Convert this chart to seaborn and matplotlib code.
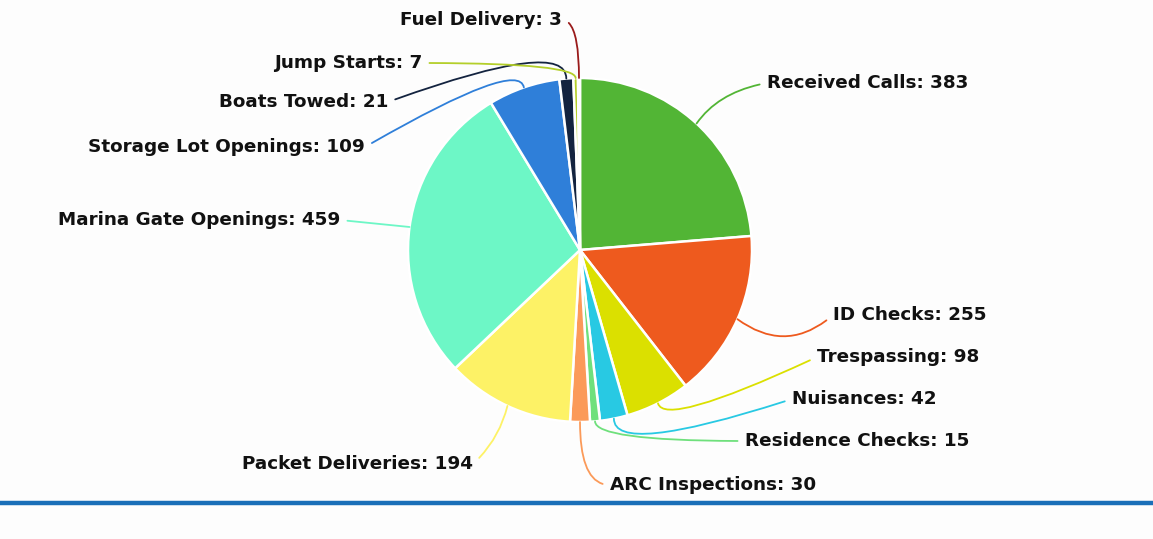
import numpy as np
import seaborn as sns
import matplotlib
matplotlib.use('Agg')
import matplotlib.pyplot as plt

# Données
categories = ['Received Calls', 'ID Checks', 'Trespassing', 'Nuisances', 'Residence Checks',
              'ARC Inspections', 'Packet Deliveries', 'Marina Gate Openings',
              'Storage Lot Openings', 'Boats Towed', 'Jump Starts', 'Fuel Delivery']
values = [383, 255, 98, 42, 15, 30, 194, 459, 109, 21, 7, 3]
colors = ['#52b535', '#ee5a1e', '#dbe000', '#28c9e3', '#6fe07c', '#fb9a59',
          '#fdf266', '#6df7c6', '#2f7fd9', '#13233f', '#b4cf2a', '#9a1b1b']

sns.set_theme(style='white')
plt.rcParams['font.family'] = ['DejaVu Sans']

W, H = 1153, 539
cx, cy, R = 580, 250, 172

def px(x, y):
    return (x - cx) / R, (cy - y) / R

fig = plt.figure(figsize=(W / 100, H / 100), dpi=100, facecolor='#fdfdfd')
ax = fig.add_axes([0, 0, 1, 1])
ax.set_facecolor('#fdfdfd')

wedges, _ = ax.pie(values, colors=colors, startangle=90, counterclock=False, radius=1,
                   wedgeprops=dict(edgecolor='white', linewidth=1.8))

ax.set_xlim(-cx / R, (W - cx) / R)
ax.set_ylim(-(H - cy) / R, cy / R)
ax.set_aspect('equal')
ax.axis('off')

# Position des étiquettes (pixels), alignement et style de courbe
labels_pos = {
    'Received Calls': (767, 83, 'left', 'angle3,angleA=10,angleB=55'),
    'ID Checks': (833, 315, 'left', 'arc3,rad=-0.4'),
    'Trespassing': (817, 357, 'left', 'angle3,angleA=25,angleB=-75'),
    'Nuisances': (792, 399, 'left', 'angle3,angleA=18,angleB=-90'),
    'Residence Checks': (745, 441, 'left', 'angle3,angleA=0,angleB=-90'),
    'ARC Inspections': (610, 485, 'left', 'angle3,angleA=0,angleB=-90'),
    'Packet Deliveries': (473, 464, 'right', 'arc3,rad=0.15'),
    'Marina Gate Openings': (340, 220, 'right', 'arc3,rad=0'),
    'Storage Lot Openings': (365, 147, 'right', 'angle3,angleA=30,angleB=100'),
    'Boats Towed': (388, 102, 'right', 'angle3,angleA=20,angleB=90'),
    'Jump Starts': (422, 63, 'right', 'angle3,angleA=0,angleB=90'),
    'Fuel Delivery': (562, 20, 'right', 'angle3,angleA=0,angleB=90'),
}

for w, cat, val, col in zip(wedges, categories, values, colors):
    mid = np.deg2rad((w.theta1 + w.theta2) / 2)
    xy = (np.cos(mid), np.sin(mid))
    tx, ty, ha, cs = labels_pos[cat]
    ax.annotate(f'{cat}: {val}', xy=xy, xytext=px(tx, ty), ha=ha, va='center',
                fontsize=13.2, fontweight='bold', color='#111111',
                arrowprops=dict(arrowstyle='-', color=col, lw=1.3,
                                connectionstyle=cs, shrinkA=3, shrinkB=0,
                                relpos=(0, 0.5) if ha == 'left' else (1, 0.5)))

# Ligne bleue en bas
ax.plot([-cx / R, (W - cx) / R], [(cy - 503) / R] * 2, color='#1a6fb8', lw=3.2,
        solid_capstyle='butt')

fig.savefig('out.png', dpi=100, facecolor=fig.get_facecolor())
